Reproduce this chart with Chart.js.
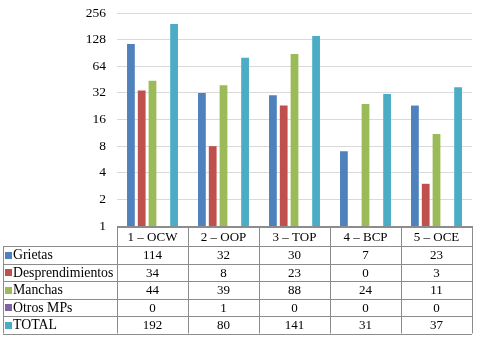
<!DOCTYPE html>
<html>
<head>
<meta charset="utf-8">
<script src="https://cdn.jsdelivr.net/npm/chart.js@4.4.0/dist/chart.umd.min.js"></script>
<style>
  html, body { margin: 0; padding: 0; background: #fff; }
  canvas { display: block; }
</style>
</head>
<body>
<canvas id="chart" width="479" height="339"></canvas>
<script>
// data
const categories = ['1 – OCW', '2 – OOP', '3 – TOP', '4 – BCP', '5 – OCE'];
const grietas = [114, 32, 30, 7, 23];
const desprendimientos = [34, 8, 23, 0, 3];
const manchas = [44, 39, 88, 24, 11];
const otrosMPs = [0, 1, 0, 0, 0];
const total = [192, 80, 141, 31, 37];
const yTicks = [1, 2, 4, 8, 16, 32, 64, 128, 256];

const serif = 'Liberation Serif, Times New Roman, serif';
const gridGray = '#8c8c8c';

const series = [
    { label: 'Grietas', data: grietas, color: '#4F81BD' },
    { label: 'Desprendimientos', data: desprendimientos, color: '#C0504D' },
    { label: 'Manchas', data: manchas, color: '#9BBB59' },
    { label: 'Otros MPs', data: otrosMPs, color: '#8064A2' },
    { label: 'TOTAL', data: total, color: '#4BACC6' },
];

// data table under the plot, lined up with the category axis
const dataTable = {
    id: 'dataTable',
    afterDraw(chart) {
        const ctx = chart.ctx;
        const x = chart.scales.x;
        const area = chart.chartArea;
        const colW = area.width / categories.length;
        const top = area.bottom + 1;
        const headH = 19;
        const rowH = 17.5;
        const left = 3;
        const right = area.right;
        const bottom = top + headH + rowH * series.length;

        ctx.save();
        ctx.strokeStyle = gridGray;
        ctx.lineWidth = 1;
        ctx.fillStyle = '#000';
        ctx.textBaseline = 'middle';

        const hline = (x0, x1, y) => {
            y = Math.round(y) + 0.5;
            ctx.beginPath(); ctx.moveTo(x0, y); ctx.lineTo(x1, y); ctx.stroke();
        };
        const vline = (xx, y0, y1) => {
            xx = Math.round(xx) + 0.5;
            ctx.beginPath(); ctx.moveTo(xx, y0); ctx.lineTo(xx, y1); ctx.stroke();
        };

        // horizontal lines
        hline(area.left, right, top);
        for (let r = 0; r <= series.length; r++) {
            hline(left, right, top + headH + r * rowH);
        }
        // vertical lines
        vline(left, top + headH, bottom);
        for (let i = 0; i <= categories.length; i++) {
            const cx = i < categories.length
                ? x.getPixelForValue(i) - colW / 2
                : x.getPixelForValue(i - 1) + colW / 2;
            vline(cx, top, bottom);
        }

        // header
        ctx.font = '13px ' + serif;
        ctx.textAlign = 'center';
        categories.forEach((c, i) => {
            ctx.fillText(c, x.getPixelForValue(i), top + headH / 2 + 1);
        });

        // rows
        series.forEach((s, r) => {
            const cy = top + headH + r * rowH + rowH / 2 + 1;
            ctx.fillStyle = s.color;
            ctx.fillRect(5, Math.round(cy - 4), 7, 7);
            ctx.fillStyle = '#000';
            ctx.font = '13.8px ' + serif;
            ctx.textAlign = 'left';
            ctx.fillText(s.label, 13, cy);
            ctx.font = '13px ' + serif;
            ctx.textAlign = 'center';
            s.data.forEach((v, i) => {
                ctx.fillText(String(v), x.getPixelForValue(i), cy);
            });
        });
        ctx.restore();
    }
};

new Chart(document.getElementById('chart'), {
    type: 'bar',
    data: {
        labels: categories,
        datasets: series.map(s => ({
            label: s.label,
            data: s.data,
            backgroundColor: s.color,
            borderWidth: 0,
            categoryPercentage: 0.76,
            barPercentage: 0.72,
        })),
    },
    options: {
        responsive: false,
        animation: false,
        layout: { padding: { top: 13, right: 7, bottom: 113, left: 0 } },
        plugins: {
            legend: { display: false },
            tooltip: { enabled: false },
        },
        scales: {
            x: {
                grid: { display: false, drawTicks: false },
                ticks: { display: false },
                border: { color: gridGray },
            },
            y: {
                type: 'logarithmic',
                min: 1,
                max: 256,
                afterBuildTicks: (scale) => {
                    scale.ticks = yTicks.map(v => ({ value: v }));
                },
                afterFit: (scale) => {
                    scale.width = 117;
                    scale.paddingTop = 0;
                    scale.paddingBottom = 0;
                },
                ticks: {
                    font: { family: serif, size: 13.5 },
                    color: '#000',
                    padding: 11,
                    callback: (v) => String(v),
                },
                grid: { color: '#d9d9d9', drawTicks: false },
                border: { display: false },
            },
        },
    },
    plugins: [dataTable],
});
</script>
</body>
</html>
